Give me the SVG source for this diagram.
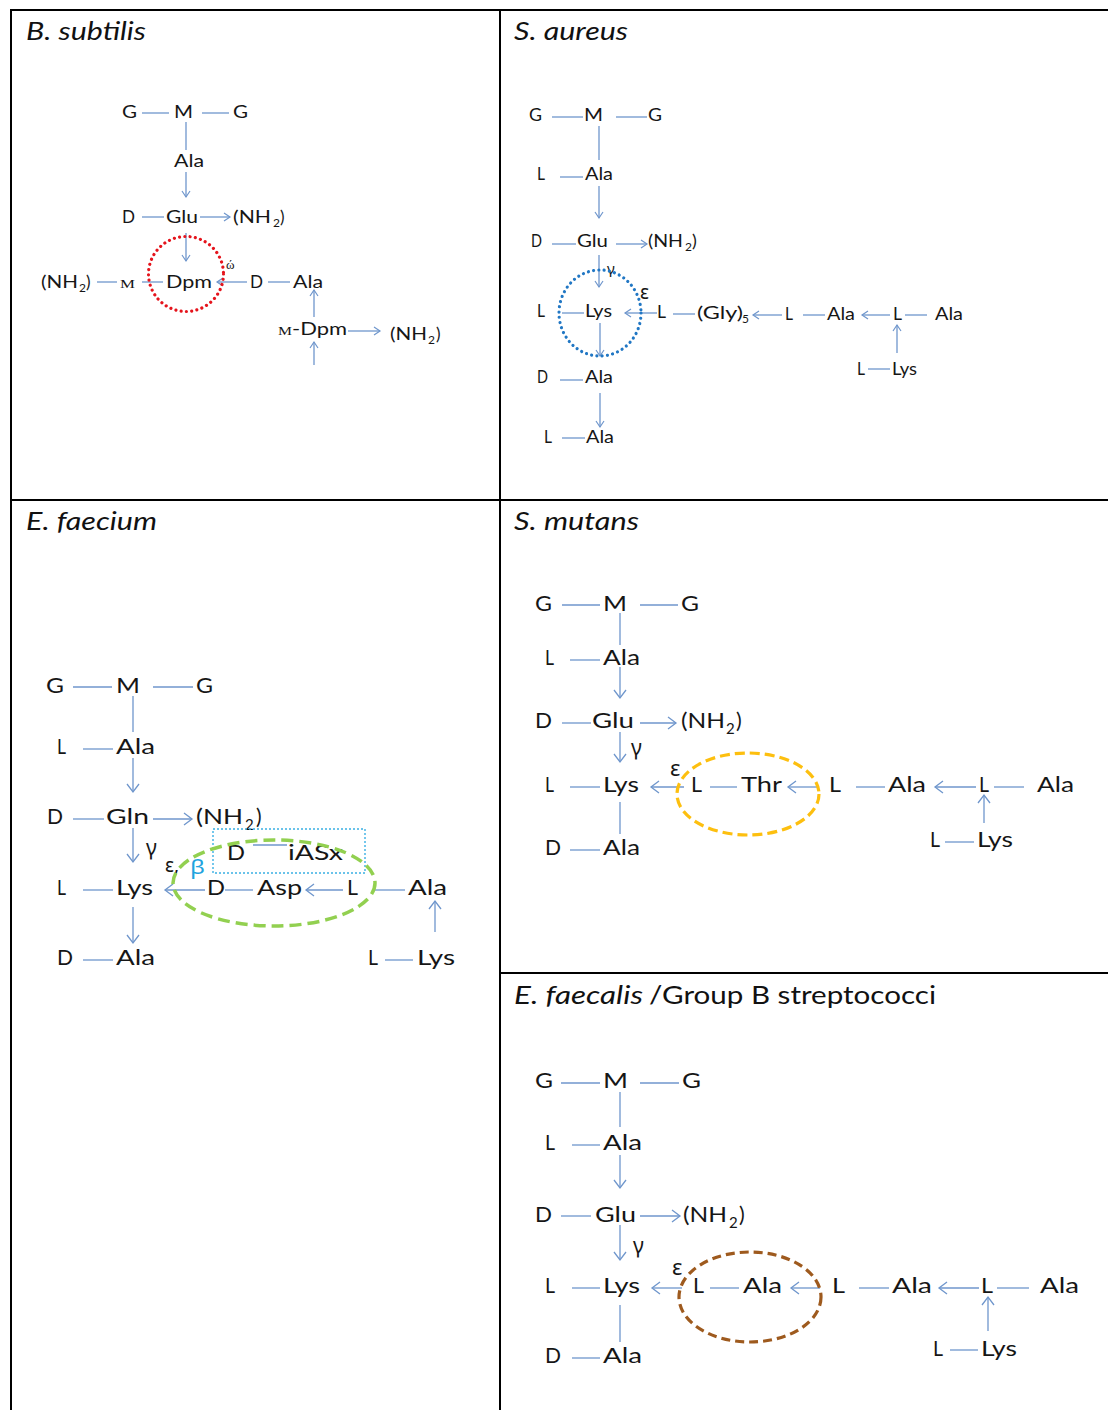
<svg xmlns="http://www.w3.org/2000/svg" width="1108" height="1410" viewBox="0 0 1108 1410">
<style>
.tx{font-family:Lato,"Liberation Sans",sans-serif;fill:#161616}
.f1{font-size:17px}.f2{font-size:18px}.f3{font-size:21px}.f4{font-size:21.5px}
.sub1{font-size:12px}.sub3{font-size:15px}
.ttl{font-family:Lato,"Liberation Sans",sans-serif;font-size:25px;fill:#111}
.it{font-style:italic}
.sr{font-family:"Liberation Serif",serif;fill:#161616}
.gr{font-family:"Noto Sans","DejaVu Sans",sans-serif;fill:#161616}
.ln{stroke:#6f96cc;stroke-width:1.3;fill:none}
.as{marker-end:url(#ahS)}
.al{marker-end:url(#ahL)}
.bd{stroke:#000;stroke-width:2;fill:none}
</style>
<defs>
<marker id="ahS" markerUnits="userSpaceOnUse" markerWidth="10" markerHeight="10" refX="6" refY="4" orient="auto" overflow="visible"><path d="M0,0 L6,4 L0,8" fill="none" stroke="#6f96cc" stroke-width="1.2"/></marker>
<marker id="ahL" markerUnits="userSpaceOnUse" markerWidth="12" markerHeight="14" refX="8" refY="6" orient="auto" overflow="visible"><path d="M0,0 L8,6 L0,12" fill="none" stroke="#6f96cc" stroke-width="1.3"/></marker>
</defs>
<rect width="1108" height="1410" fill="#fff"/>
<g id="table">
<line class="bd" x1="10" y1="10" x2="1108" y2="10"/>
<line class="bd" x1="11" y1="10" x2="11" y2="1410"/>
<line class="bd" x1="500" y1="10" x2="500" y2="1410"/>
<line class="bd" x1="11" y1="500" x2="1108" y2="500"/>
<line class="bd" x1="500" y1="973" x2="1108" y2="973"/>
</g>
<g id="titles">
<text class="ttl it" x="26" y="40" textLength="120" lengthAdjust="spacingAndGlyphs">B. subtilis</text>
<text class="ttl it" x="514" y="40" textLength="114" lengthAdjust="spacingAndGlyphs">S. aureus</text>
<text class="ttl it" x="26" y="530" textLength="131" lengthAdjust="spacingAndGlyphs">E. faecium</text>
<text class="ttl it" x="514" y="530" textLength="125" lengthAdjust="spacingAndGlyphs">S. mutans</text>
<text class="ttl it" x="514" y="1004" textLength="129" lengthAdjust="spacingAndGlyphs">E. faecalis</text>
<text class="ttl" x="649" y="1004" textLength="287" lengthAdjust="spacingAndGlyphs">/Group B streptococci</text>
</g>

<!-- Panel 1: B. subtilis -->
<g id="p1-nodes" class="tx f1">
<g id="p1-G1"><text x="122" y="118" textLength="15" lengthAdjust="spacingAndGlyphs">G</text></g>
<g id="p1-M"><text x="174" y="118" textLength="19" lengthAdjust="spacingAndGlyphs">M</text></g>
<g id="p1-G2"><text x="233" y="118" textLength="15" lengthAdjust="spacingAndGlyphs">G</text></g>
<g id="p1-Ala"><text x="174" y="167" textLength="30" lengthAdjust="spacingAndGlyphs">Ala</text></g>
<g id="p1-D"><text x="122" y="223" textLength="13" lengthAdjust="spacingAndGlyphs">D</text></g>
<g id="p1-Glu"><text x="166" y="223" textLength="32" lengthAdjust="spacingAndGlyphs">Glu</text></g>
<g id="p1-NH2a"><text x="233" y="223" textLength="38" lengthAdjust="spacingAndGlyphs">(NH</text><text class="sub1" x="273" y="227">2</text><text x="280" y="223">)</text></g>
<g id="p1-NH2b"><text x="41" y="288" textLength="37" lengthAdjust="spacingAndGlyphs">(NH</text><text class="sub1" x="79" y="292">2</text><text x="86" y="288">)</text></g>
<g id="p1-Mm"><text class="sr" x="120" y="288" font-size="12.5" textLength="15" lengthAdjust="spacingAndGlyphs">M</text></g>
<g id="p1-Dpm"><text x="166" y="288" textLength="46" lengthAdjust="spacingAndGlyphs">Dpm</text></g>
<g id="p1-omega"><text class="sr" x="226" y="269" font-size="13">ώ</text></g>
<g id="p1-D2"><text x="250" y="288" textLength="13" lengthAdjust="spacingAndGlyphs">D</text></g>
<g id="p1-Ala2"><text x="293" y="288" textLength="30" lengthAdjust="spacingAndGlyphs">Ala</text></g>
<g id="p1-mDpm"><text class="sr" x="278" y="335" font-size="12.5" textLength="14" lengthAdjust="spacingAndGlyphs">M</text><text x="292" y="335" textLength="55" lengthAdjust="spacingAndGlyphs">-Dpm</text></g>
<g id="p1-NH2c"><text x="390" y="340" textLength="37" lengthAdjust="spacingAndGlyphs">(NH</text><text class="sub1" x="428" y="344">2</text><text x="436" y="340">)</text></g>
</g>
<g id="p1-connectors" class="ln">
<line x1="142" y1="113" x2="169" y2="113"/>
<line x1="202" y1="113" x2="229" y2="113"/>
<line x1="186" y1="122" x2="186" y2="150"/>
<line class="as" x1="186" y1="172" x2="186" y2="197"/>
<line x1="142" y1="217" x2="164" y2="217"/>
<line class="as" x1="200" y1="217" x2="230" y2="217"/>
<line class="as" x1="186" y1="233" x2="186" y2="261"/>
<line x1="97" y1="282" x2="117" y2="282"/>
<line x1="142" y1="282" x2="163" y2="282"/>
<line class="as" x1="247" y1="282" x2="217" y2="282"/>
<line x1="268" y1="282" x2="290" y2="282"/>
<line class="as" x1="314" y1="317" x2="314" y2="290"/>
<line class="as" x1="348" y1="331" x2="380" y2="331"/>
<line class="as" x1="314" y1="365" x2="314" y2="342"/>
<circle cx="186" cy="274" r="37.5" stroke="#e5141c" stroke-width="3.2" stroke-dasharray="0.01 5.3" stroke-linecap="round"/>
</g>

<!-- Panel 2: S. aureus -->
<g id="p2-nodes" class="tx f2">
<g id="p2-G1"><text x="529" y="121" textLength="13" lengthAdjust="spacingAndGlyphs">G</text></g>
<g id="p2-M"><text x="584" y="121" textLength="19" lengthAdjust="spacingAndGlyphs">M</text></g>
<g id="p2-G2"><text x="648" y="121" textLength="14" lengthAdjust="spacingAndGlyphs">G</text></g>
<g id="p2-L1"><text x="537" y="180" textLength="8" lengthAdjust="spacingAndGlyphs">L</text></g>
<g id="p2-Ala1"><text x="585" y="180" textLength="28" lengthAdjust="spacingAndGlyphs">Ala</text></g>
<g id="p2-D1"><text x="531" y="247" textLength="11" lengthAdjust="spacingAndGlyphs">D</text></g>
<g id="p2-Glu"><text x="577" y="247" textLength="31" lengthAdjust="spacingAndGlyphs">Glu</text></g>
<g id="p2-NH2"><text x="648" y="247" textLength="35" lengthAdjust="spacingAndGlyphs">(NH</text><text class="sub1" x="685" y="251">2</text><text x="692" y="247">)</text></g>
<g id="p2-gamma"><text class="gr" x="607" y="274" font-size="15">γ</text></g>
<g id="p2-L2"><text x="537" y="317" textLength="8" lengthAdjust="spacingAndGlyphs">L</text></g>
<g id="p2-Lys"><text x="585" y="317" textLength="27" lengthAdjust="spacingAndGlyphs">Lys</text></g>
<g id="p2-eps"><text class="gr" x="640" y="299" font-size="19">ε</text></g>
<g id="p2-L3"><text x="657" y="318" textLength="9" lengthAdjust="spacingAndGlyphs">L</text></g>
<g id="p2-Gly5"><text x="697" y="319" textLength="46" lengthAdjust="spacingAndGlyphs">(Gly)</text><text class="sub1" x="742" y="323">5</text></g>
<g id="p2-L4"><text x="785" y="320" textLength="8" lengthAdjust="spacingAndGlyphs">L</text></g>
<g id="p2-Ala2"><text x="827" y="320" textLength="28" lengthAdjust="spacingAndGlyphs">Ala</text></g>
<g id="p2-L5"><text x="893" y="320" textLength="9" lengthAdjust="spacingAndGlyphs">L</text></g>
<g id="p2-Ala3"><text x="935" y="320" textLength="28" lengthAdjust="spacingAndGlyphs">Ala</text></g>
<g id="p2-L6"><text x="857" y="375" textLength="8" lengthAdjust="spacingAndGlyphs">L</text></g>
<g id="p2-Lys2"><text x="892" y="375" textLength="25" lengthAdjust="spacingAndGlyphs">Lys</text></g>
<g id="p2-D2"><text x="537" y="383" textLength="11" lengthAdjust="spacingAndGlyphs">D</text></g>
<g id="p2-Ala4"><text x="585" y="383" textLength="28" lengthAdjust="spacingAndGlyphs">Ala</text></g>
<g id="p2-L7"><text x="544" y="443" textLength="8" lengthAdjust="spacingAndGlyphs">L</text></g>
<g id="p2-Ala5"><text x="586" y="443" textLength="28" lengthAdjust="spacingAndGlyphs">Ala</text></g>
</g>
<g id="p2-connectors" class="ln">
<line x1="552" y1="117" x2="583" y2="117"/>
<line x1="616" y1="117" x2="647" y2="117"/>
<line x1="599" y1="126" x2="599" y2="160"/>
<line x1="560" y1="177" x2="583" y2="177"/>
<line class="as" x1="599" y1="186" x2="599" y2="218"/>
<line x1="552" y1="244" x2="576" y2="244"/>
<line class="as" x1="616" y1="244" x2="647" y2="244"/>
<line class="as" x1="599" y1="255" x2="599" y2="287"/>
<line x1="562" y1="313" x2="584" y2="313"/>
<line class="as" x1="657" y1="313" x2="625" y2="313"/>
<line x1="673" y1="314" x2="695" y2="314"/>
<line class="as" x1="782" y1="315" x2="753" y2="315"/>
<line x1="803" y1="315" x2="825" y2="315"/>
<line class="as" x1="890" y1="315" x2="862" y2="315"/>
<line x1="905" y1="315" x2="927" y2="315"/>
<line class="as" x1="897" y1="353" x2="897" y2="325"/>
<line x1="868" y1="369" x2="890" y2="369"/>
<line class="as" x1="600" y1="323" x2="600" y2="356"/>
<line x1="560" y1="380" x2="583" y2="380"/>
<line class="as" x1="600" y1="393" x2="600" y2="427"/>
<line x1="562" y1="438" x2="585" y2="438"/>
<ellipse cx="600" cy="313" rx="41" ry="43" stroke="#2177c4" stroke-width="3.2" stroke-dasharray="0.01 5.3" stroke-linecap="round"/>
</g>

<!-- Panel 3: E. faecium -->
<g id="p3-nodes" class="tx f3">
<g id="p3-G1"><text x="46" y="693" textLength="18" lengthAdjust="spacingAndGlyphs">G</text></g>
<g id="p3-M"><text x="116" y="693" textLength="24" lengthAdjust="spacingAndGlyphs">M</text></g>
<g id="p3-G2"><text x="196" y="693" textLength="17" lengthAdjust="spacingAndGlyphs">G</text></g>
<g id="p3-L1"><text x="57" y="754" textLength="9" lengthAdjust="spacingAndGlyphs">L</text></g>
<g id="p3-Ala1"><text x="116" y="754" textLength="39" lengthAdjust="spacingAndGlyphs">Ala</text></g>
<g id="p3-D1"><text x="47" y="824" textLength="16" lengthAdjust="spacingAndGlyphs">D</text></g>
<g id="p3-Gln"><text x="106" y="824" textLength="43" lengthAdjust="spacingAndGlyphs">Gln</text></g>
<g id="p3-NH2"><text x="196" y="824" textLength="47" lengthAdjust="spacingAndGlyphs">(NH</text><text class="sub3" x="245" y="830">2</text><text x="256" y="824">)</text></g>
<g id="p3-gamma"><text class="gr" x="146" y="855" font-size="21">γ</text></g>
<g id="p3-D2"><text x="227" y="860" textLength="18" lengthAdjust="spacingAndGlyphs">D</text></g>
<g id="p3-iASx"><text x="288" y="860" textLength="55" lengthAdjust="spacingAndGlyphs">iASx</text></g>
<g id="p3-epsbeta"><text class="gr" x="165" y="872" font-size="19">ε,</text><text class="gr" x="190" y="874" font-size="20" style="fill:#1fa3de" textLength="15" lengthAdjust="spacingAndGlyphs">β</text></g>
<g id="p3-L2"><text x="57" y="895" textLength="9" lengthAdjust="spacingAndGlyphs">L</text></g>
<g id="p3-Lys"><text x="116" y="895" textLength="37" lengthAdjust="spacingAndGlyphs">Lys</text></g>
<g id="p3-D3"><text x="207" y="895" textLength="18" lengthAdjust="spacingAndGlyphs">D</text></g>
<g id="p3-Asp"><text x="257" y="895" textLength="45" lengthAdjust="spacingAndGlyphs">Asp</text></g>
<g id="p3-L3"><text x="347" y="895" textLength="11" lengthAdjust="spacingAndGlyphs">L</text></g>
<g id="p3-Ala2"><text x="408" y="895" textLength="39" lengthAdjust="spacingAndGlyphs">Ala</text></g>
<g id="p3-L4"><text x="368" y="965" textLength="10" lengthAdjust="spacingAndGlyphs">L</text></g>
<g id="p3-Lys2"><text x="417" y="965" textLength="38" lengthAdjust="spacingAndGlyphs">Lys</text></g>
<g id="p3-D4"><text x="57" y="965" textLength="16" lengthAdjust="spacingAndGlyphs">D</text></g>
<g id="p3-Ala3"><text x="116" y="965" textLength="39" lengthAdjust="spacingAndGlyphs">Ala</text></g>
</g>
<g id="p3-connectors" class="ln">
<line x1="73" y1="687" x2="112" y2="687"/>
<line x1="153" y1="687" x2="193" y2="687"/>
<line x1="133" y1="696" x2="133" y2="732"/>
<line x1="83" y1="749" x2="113" y2="749"/>
<line class="al" x1="133" y1="758" x2="133" y2="792"/>
<line x1="73" y1="819" x2="104" y2="819"/>
<line class="al" x1="153" y1="819" x2="192" y2="819"/>
<line class="al" x1="133" y1="828" x2="133" y2="862"/>
<line x1="253" y1="845" x2="287" y2="845"/>
<line x1="83" y1="890" x2="113" y2="890"/>
<line class="al" x1="205" y1="890" x2="165" y2="890"/>
<line x1="225" y1="890" x2="253" y2="890"/>
<line class="al" x1="343" y1="890" x2="306" y2="890"/>
<line x1="375" y1="890" x2="405" y2="890"/>
<line class="al" x1="435" y1="932" x2="435" y2="901"/>
<line x1="385" y1="960" x2="413" y2="960"/>
<line class="al" x1="133" y1="907" x2="133" y2="943"/>
<line x1="83" y1="960" x2="113" y2="960"/>
<rect x="213" y="829" width="152" height="44" stroke="#3ab0e4" stroke-width="1.4" stroke-dasharray="2 2"/>
<ellipse cx="274" cy="883" rx="101" ry="43" stroke="#92d050" stroke-width="3.5" stroke-dasharray="12 6"/>
</g>

<!-- Panel 4: S. mutans -->
<g id="p4-nodes" class="tx f4">
<g id="p4-G1"><text x="535" y="611" textLength="17" lengthAdjust="spacingAndGlyphs">G</text></g>
<g id="p4-M"><text x="603" y="611" textLength="24" lengthAdjust="spacingAndGlyphs">M</text></g>
<g id="p4-G2"><text x="681" y="611" textLength="18" lengthAdjust="spacingAndGlyphs">G</text></g>
<g id="p4-L1"><text x="545" y="665" textLength="9" lengthAdjust="spacingAndGlyphs">L</text></g>
<g id="p4-Ala1"><text x="603" y="665" textLength="37" lengthAdjust="spacingAndGlyphs">Ala</text></g>
<g id="p4-D1"><text x="535" y="728" textLength="17" lengthAdjust="spacingAndGlyphs">D</text></g>
<g id="p4-Glu"><text x="592" y="728" textLength="42" lengthAdjust="spacingAndGlyphs">Glu</text></g>
<g id="p4-NH2"><text x="681" y="728" textLength="44" lengthAdjust="spacingAndGlyphs">(NH</text><text class="sub3" x="726" y="734">2</text><text x="736" y="728">)</text></g>
<g id="p4-gamma"><text class="gr" x="631" y="755" font-size="21">γ</text></g>
<g id="p4-eps"><text class="gr" x="670" y="776" font-size="22">ε</text></g>
<g id="p4-L2"><text x="545" y="792" textLength="9" lengthAdjust="spacingAndGlyphs">L</text></g>
<g id="p4-Lys"><text x="603" y="792" textLength="36" lengthAdjust="spacingAndGlyphs">Lys</text></g>
<g id="p4-L3"><text x="691" y="792" textLength="11" lengthAdjust="spacingAndGlyphs">L</text></g>
<g id="p4-Thr"><text x="741" y="792" textLength="41" lengthAdjust="spacingAndGlyphs">Thr</text></g>
<g id="p4-L4"><text x="829" y="792" textLength="12" lengthAdjust="spacingAndGlyphs">L</text></g>
<g id="p4-Ala2"><text x="888" y="792" textLength="38" lengthAdjust="spacingAndGlyphs">Ala</text></g>
<g id="p4-L5"><text x="979" y="792" textLength="10" lengthAdjust="spacingAndGlyphs">L</text></g>
<g id="p4-Ala3"><text x="1037" y="792" textLength="37" lengthAdjust="spacingAndGlyphs">Ala</text></g>
<g id="p4-L6"><text x="930" y="847" textLength="10" lengthAdjust="spacingAndGlyphs">L</text></g>
<g id="p4-Lys2"><text x="977" y="847" textLength="36" lengthAdjust="spacingAndGlyphs">Lys</text></g>
<g id="p4-D2"><text x="545" y="855" textLength="16" lengthAdjust="spacingAndGlyphs">D</text></g>
<g id="p4-Ala4"><text x="603" y="855" textLength="37" lengthAdjust="spacingAndGlyphs">Ala</text></g>
</g>
<g id="p4-connectors" class="ln">
<line x1="562" y1="605" x2="600" y2="605"/>
<line x1="640" y1="605" x2="678" y2="605"/>
<line x1="620" y1="613" x2="620" y2="645"/>
<line x1="570" y1="660" x2="600" y2="660"/>
<line class="al" x1="620" y1="667" x2="620" y2="698"/>
<line x1="562" y1="723" x2="591" y2="723"/>
<line class="al" x1="640" y1="723" x2="676" y2="723"/>
<line class="al" x1="620" y1="732" x2="620" y2="762"/>
<line x1="570" y1="787" x2="600" y2="787"/>
<line class="al" x1="684" y1="787" x2="651" y2="787"/>
<line x1="710" y1="787" x2="737" y2="787"/>
<line class="al" x1="818" y1="787" x2="788" y2="787"/>
<line x1="856" y1="787" x2="885" y2="787"/>
<line class="al" x1="976" y1="787" x2="935" y2="787"/>
<line x1="994" y1="787" x2="1024" y2="787"/>
<line class="al" x1="984" y1="823" x2="984" y2="795"/>
<line x1="945" y1="842" x2="974" y2="842"/>
<line x1="620" y1="802" x2="620" y2="834"/>
<line x1="570" y1="850" x2="600" y2="850"/>
<ellipse cx="748" cy="794" rx="71" ry="41" stroke="#fdbf0f" stroke-width="3.2" stroke-dasharray="10 5"/>
</g>

<!-- Panel 5: E. faecalis / Group B streptococci -->
<g id="p5-nodes" class="tx f4">
<g id="p5-G1"><text x="535" y="1088" textLength="18" lengthAdjust="spacingAndGlyphs">G</text></g>
<g id="p5-M"><text x="603" y="1088" textLength="25" lengthAdjust="spacingAndGlyphs">M</text></g>
<g id="p5-G2"><text x="682" y="1088" textLength="19" lengthAdjust="spacingAndGlyphs">G</text></g>
<g id="p5-L1"><text x="545" y="1150" textLength="10" lengthAdjust="spacingAndGlyphs">L</text></g>
<g id="p5-Ala1"><text x="603" y="1150" textLength="39" lengthAdjust="spacingAndGlyphs">Ala</text></g>
<g id="p5-D1"><text x="535" y="1222" textLength="17" lengthAdjust="spacingAndGlyphs">D</text></g>
<g id="p5-Glu"><text x="595" y="1222" textLength="41" lengthAdjust="spacingAndGlyphs">Glu</text></g>
<g id="p5-NH2"><text x="683" y="1222" textLength="44" lengthAdjust="spacingAndGlyphs">(NH</text><text class="sub3" x="729" y="1228">2</text><text x="739" y="1222">)</text></g>
<g id="p5-gamma"><text class="gr" x="633" y="1253" font-size="21">γ</text></g>
<g id="p5-eps"><text class="gr" x="672" y="1275" font-size="22">ε</text></g>
<g id="p5-L2"><text x="545" y="1293" textLength="10" lengthAdjust="spacingAndGlyphs">L</text></g>
<g id="p5-Lys"><text x="603" y="1293" textLength="37" lengthAdjust="spacingAndGlyphs">Lys</text></g>
<g id="p5-L3"><text x="693" y="1293" textLength="11" lengthAdjust="spacingAndGlyphs">L</text></g>
<g id="p5-Ala2"><text x="743" y="1293" textLength="39" lengthAdjust="spacingAndGlyphs">Ala</text></g>
<g id="p5-L4"><text x="832" y="1293" textLength="13" lengthAdjust="spacingAndGlyphs">L</text></g>
<g id="p5-Ala3"><text x="892" y="1293" textLength="40" lengthAdjust="spacingAndGlyphs">Ala</text></g>
<g id="p5-L5"><text x="981" y="1293" textLength="12" lengthAdjust="spacingAndGlyphs">L</text></g>
<g id="p5-Ala4"><text x="1040" y="1293" textLength="39" lengthAdjust="spacingAndGlyphs">Ala</text></g>
<g id="p5-L6"><text x="933" y="1356" textLength="10" lengthAdjust="spacingAndGlyphs">L</text></g>
<g id="p5-Lys2"><text x="981" y="1356" textLength="36" lengthAdjust="spacingAndGlyphs">Lys</text></g>
<g id="p5-D2"><text x="545" y="1363" textLength="16" lengthAdjust="spacingAndGlyphs">D</text></g>
<g id="p5-Ala5"><text x="603" y="1363" textLength="39" lengthAdjust="spacingAndGlyphs">Ala</text></g>
</g>
<g id="p5-connectors" class="ln">
<line x1="561" y1="1083" x2="600" y2="1083"/>
<line x1="640" y1="1083" x2="679" y2="1083"/>
<line x1="620" y1="1092" x2="620" y2="1127"/>
<line x1="572" y1="1145" x2="600" y2="1145"/>
<line class="al" x1="620" y1="1155" x2="620" y2="1188"/>
<line x1="561" y1="1216" x2="591" y2="1216"/>
<line class="al" x1="640" y1="1216" x2="680" y2="1216"/>
<line class="al" x1="620" y1="1225" x2="620" y2="1260"/>
<line x1="572" y1="1288" x2="600" y2="1288"/>
<line class="al" x1="682" y1="1288" x2="652" y2="1288"/>
<line x1="710" y1="1288" x2="739" y2="1288"/>
<line class="al" x1="820" y1="1288" x2="791" y2="1288"/>
<line x1="859" y1="1288" x2="889" y2="1288"/>
<line class="al" x1="979" y1="1288" x2="939" y2="1288"/>
<line x1="997" y1="1288" x2="1029" y2="1288"/>
<line class="al" x1="988" y1="1331" x2="988" y2="1297"/>
<line x1="950" y1="1350" x2="978" y2="1350"/>
<line x1="620" y1="1305" x2="620" y2="1342"/>
<line x1="572" y1="1358" x2="600" y2="1358"/>
<ellipse cx="750" cy="1297" rx="71" ry="45" stroke="#9e5a1e" stroke-width="3.2" stroke-dasharray="9 5"/>
</g>
</svg>
